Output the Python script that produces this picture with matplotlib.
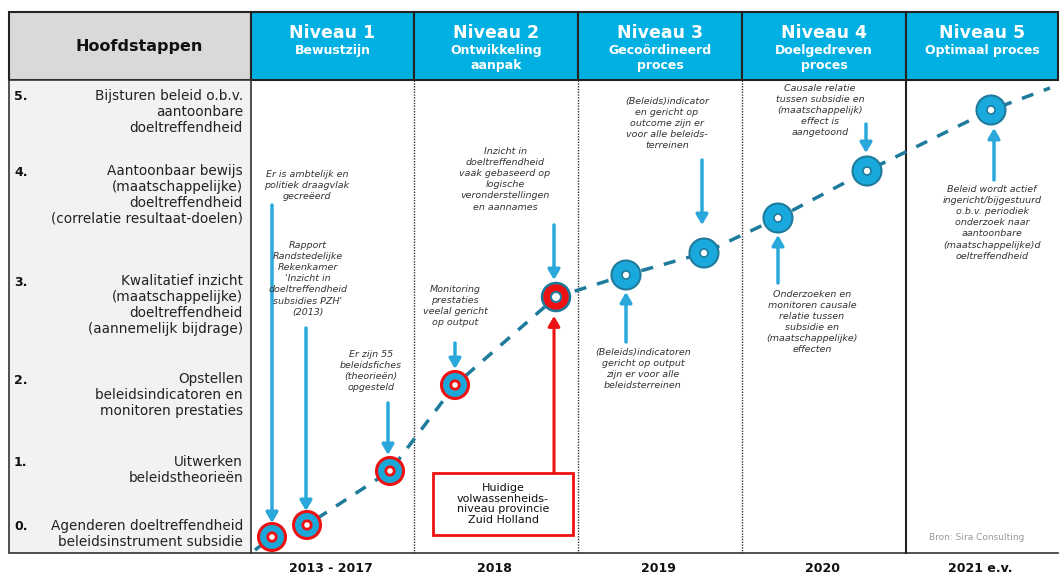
import matplotlib.pyplot as plt
from matplotlib.patches import Rectangle, Circle

# canvas in pixel units (1062 x 576), y pointing down
W, H = 1062, 576

# table layout
col_edges = [251, 414, 578, 742, 906, 1058]
header_top, header_bot, body_bot = 12, 80, 553
left_x = 9

niveau_titles = ["Niveau 1", "Niveau 2", "Niveau 3", "Niveau 4", "Niveau 5"]
niveau_subs = ["Bewustzijn", "Ontwikkeling\naanpak", "Gecoördineerd\nproces",
               "Doelgedreven\nproces", "Optimaal proces"]
years = ["2013 - 2017", "2018", "2019", "2020", "2021 e.v."]

level_nums = ["5.", "4.", "3.", "2.", "1.", "0."]
level_texts = [
    "Bijsturen beleid o.b.v.\naantoonbare\ndoeltreffendheid",
    "Aantoonbaar bewijs\n(maatschappelijke)\ndoeltreffendheid\n(correlatie resultaat-doelen)",
    "Kwalitatief inzicht\n(maatschappelijke)\ndoeltreffendheid\n(aannemelijk bijdrage)",
    "Opstellen\nbeleidsindicatoren en\nmonitoren prestaties",
    "Uitwerken\nbeleidstheorieën",
    "Agenderen doeltreffendheid\nbeleidsinstrument subsidie",
]
level_y = [97, 172, 282, 380, 463, 527]

# milestones on the maturity curve
pt_x = [272, 307, 390, 455, 556, 626, 704, 778, 867, 991]
pt_y = [537, 525, 471, 385, 297, 275, 253, 218, 171, 110]
pt_kind = ["red", "red", "red", "red", "now", "blue", "blue", "blue", "blue", "blue"]
curve_x = [255] + pt_x + [1050]
curve_y = [550] + pt_y + [88]

# annotations: text, text centre x, text top y, arrow start, arrow end
notes = [
    ("Er is ambtelijk en\npolitiek draagvlak\ngecreëerd", 307, 170, (272, 205), (272, 523)),
    ("Rapport\nRandstedelijke\nRekenkamer\n'Inzicht in\ndoeltreffendheid\nsubsidies PZH'\n(2013)",
     308, 241, (306, 328), (306, 511)),
    ("Er zijn 55\nbeleidsfiches\n(theorieën)\nopgesteld", 371, 350, (388, 403), (388, 455)),
    ("Monitoring\nprestaties\nveelal gericht\nop output", 455, 285, (455, 343), (455, 369)),
    ("Inzicht in\ndoeltreffendheid\nvaak gebaseerd op\nlogische\nveronderstellingen\nen aannames",
     505, 147, (554, 225), (554, 280)),
    ("(Beleids)indicatoren\ngericht op output\nzijn er voor alle\nbeleidsterreinen",
     643, 348, (626, 342), (626, 292)),
    ("(Beleids)indicator\nen gericht op\noutcome zijn er\nvoor alle beleids-\nterreinen",
     667, 97, (702, 160), (702, 225)),
    ("Causale relatie\ntussen subsidie en\n(maatschappelijk)\neffect is\naangetoond",
     820, 84, (866, 124), (866, 153)),
    ("Onderzoeken en\nmonitoren causale\nrelatie tussen\nsubsidie en\n(maatschappelijke)\neffecten",
     812, 290, (778, 283), (778, 235)),
    ("Beleid wordt actief\ningericht/bijgestuurd\no.b.v. periodiek\nonderzoek naar\naantoonbare\n(maatschappelijke)d\noeltreffendheid",
     992, 185, (994, 180), (994, 128)),
]

BLUE = "#00b0e2"
ARROW = "#2aa8dc"
TEAL = "#1f7b9c"
RED = "#ee1111"

fig = plt.figure(figsize=(W / 100, H / 100), dpi=100)
ax = fig.add_axes([0, 0, 1, 1])
ax.set_xlim(0, W)
ax.set_ylim(H, 0)
ax.axis("off")

# header cells
ax.add_patch(Rectangle((left_x, header_top), col_edges[0] - left_x, header_bot - header_top,
                       fc="#d9d9d9", ec="#222222", lw=1.5))
ax.text((left_x + col_edges[0]) / 2 + 9, 47, "Hoofdstappen", ha="center", va="center",
        fontsize=11.5, fontweight="bold", color="#111111")
for i in range(5):
    x0, x1 = col_edges[i], col_edges[i + 1]
    ax.add_patch(Rectangle((x0, header_top), x1 - x0, header_bot - header_top,
                           fc=BLUE, ec="#222222", lw=1.5))
    cx = (x0 + x1) / 2
    ax.text(cx, 33, niveau_titles[i], ha="center", va="center", fontsize=12.5,
            fontweight="bold", color="white")
    ax.text(cx, 44, niveau_subs[i], ha="center", va="top", fontsize=9,
            fontweight="bold", color="white", linespacing=1.15)

# body
ax.add_patch(Rectangle((left_x, header_bot), col_edges[0] - left_x, body_bot - header_bot,
                       fc="#f2f2f2", ec="#333333", lw=1.2))
ax.plot([col_edges[0], col_edges[-1]], [body_bot, body_bot], color="#333333", lw=1.2)
for xe in col_edges[1:4]:
    ax.plot([xe, xe], [header_bot, body_bot], color="#333333", lw=1.0, ls=(0, (1, 1)))
ax.plot([col_edges[4], col_edges[4]], [header_bot, body_bot], color="#222222", lw=1.5)

for num, txt, y in zip(level_nums, level_texts, level_y):
    ax.text(14, y, num, ha="left", va="center", fontsize=9, fontweight="bold", color="#111111")
    ax.text(243, y - 8, txt, ha="right", va="top", fontsize=9.8, color="#222222",
            linespacing=1.18)

for i, yr in enumerate(years):
    ax.text((col_edges[i] + col_edges[i + 1]) / 2 - 2, 569, yr, ha="center", va="center",
            fontsize=9, fontweight="bold", color="#111111")

# maturity curve
ax.plot(curve_x, curve_y, color=TEAL, lw=2.5, ls=(0, (3.5, 3.2)), zorder=2)

for x, y, k in zip(pt_x, pt_y, pt_kind):
    if k == "red":
        ax.add_patch(Circle((x, y), 13.5, fc="#1aa8d8", ec=RED, lw=2.2, zorder=4))
        ax.add_patch(Circle((x, y), 4.2, fc="white", ec=RED, lw=2.0, zorder=5))
    elif k == "now":
        ax.add_patch(Circle((x, y), 14, fc=RED, ec=TEAL, lw=1.8, zorder=4))
        ax.add_patch(Circle((x, y), 5, fc="white", ec=TEAL, lw=1.5, zorder=5))
    else:
        ax.add_patch(Circle((x, y), 14.5, fc="#19a9dc", ec=TEAL, lw=1.5, zorder=4))
        ax.add_patch(Circle((x, y), 4, fc="white", ec=TEAL, lw=1.2, zorder=5))

# annotations with blue arrows
for txt, tx, ty, a0, a1 in notes:
    ax.text(tx, ty, txt, ha="center", va="top", fontsize=6.8, style="italic",
            color="#333333", linespacing=1.3, zorder=3)
    ax.annotate("", xy=a1, xytext=a0,
                arrowprops=dict(arrowstyle="-|>,head_width=0.35,head_length=0.6",
                                color=ARROW, lw=2.5, shrinkA=0, shrinkB=0), zorder=3)

# current level box with red arrow
ax.add_patch(Rectangle((433, 473), 140, 62, fc="white", ec=RED, lw=2, zorder=3))
ax.text(503, 504, "Huidige\nvolwassenheids-\nniveau provincie\nZuid Holland", ha="center",
        va="center", fontsize=8, color="#111111", linespacing=1.1, zorder=4)
ax.annotate("", xy=(554, 316), xytext=(554, 473),
            arrowprops=dict(arrowstyle="-|>,head_width=0.35,head_length=0.6",
                            color=RED, lw=2.2, shrinkA=0, shrinkB=0), zorder=3)

ax.text(977, 538, "Bron: Sira Consulting", ha="center", va="center", fontsize=6.5,
        color="#999999")

fig.savefig("out.png", dpi=100)
